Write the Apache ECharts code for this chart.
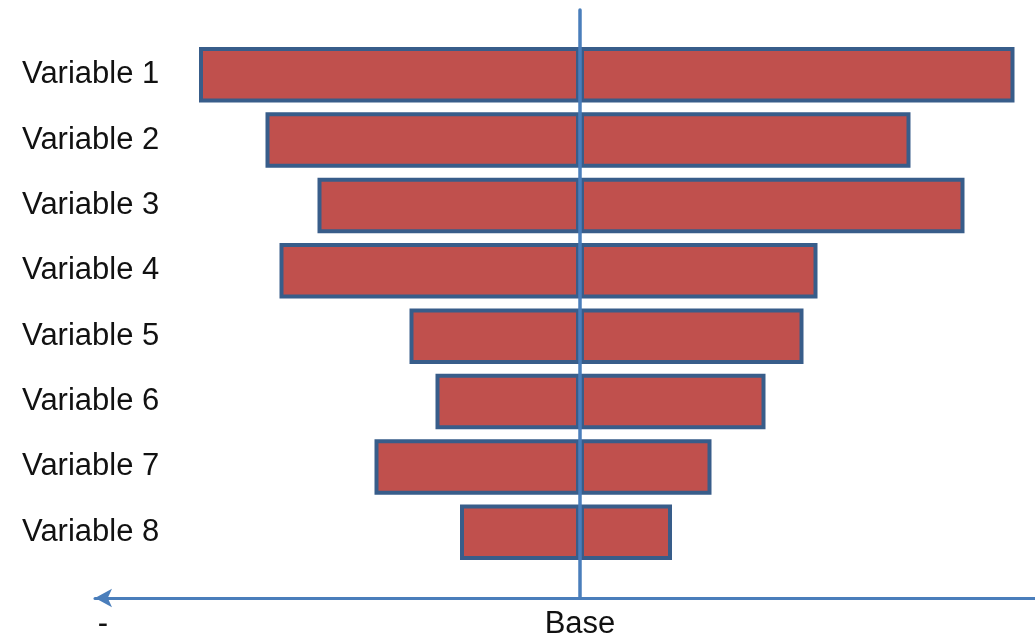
<!DOCTYPE html>
<html>
<head>
<meta charset="utf-8">
<script src="https://cdn.jsdelivr.net/npm/echarts@6/dist/echarts.min.js"></script>
<style>
html,body{margin:0;padding:0;background:#fff;}
#chart{width:1035px;height:638px;}
</style>
</head>
<body>
<div id="chart"></div>
<script>
// Data (arbitrary units; 0 = Base)
const categories = ['Variable 1','Variable 2','Variable 3','Variable 4','Variable 5','Variable 6','Variable 7','Variable 8'];
const lowValues  = [-76.2, -62.9, -52.5, -60.1, -34.1, -28.9, -41.1, -24.0];
const highValues = [86.9, 66.1, 76.9, 47.5, 44.7, 37.1, 26.3, 18.4];
const axisMin = -97;
const axisMax = 91;
const bottomTickValues = [-95.4, 0];
const bottomTickLabels = ['-', 'Base'];

const FONT = "'Liberation Sans', Arial, sans-serif";
const BAR_FILL = '#c0504d';
const BAR_BORDER = '#385d8a';
const AXIS_BLUE = '#4a7ebb';

const chart = echarts.init(document.getElementById('chart'), null, {renderer: 'canvas'});

const barStyle = {color: BAR_FILL, borderColor: BAR_BORDER, borderWidth: 4};

chart.setOption({
  animation: false,
  backgroundColor: '#ffffff',
  grid: [
    {left: 95, right: 0, top: 42, height: 523, outerBoundsMode: 'none', containLabel: false},
    {left: 95, right: 0, top: 10, bottom: 40, outerBoundsMode: 'none', containLabel: false}
  ],
  xAxis: [
    {gridIndex: 0, type: 'value', min: axisMin, max: axisMax, show: false},
    {
      gridIndex: 1, type: 'value', min: axisMin, max: axisMax,
      axisLine: {show: true, onZero: true, symbol: ['arrow', 'none'], symbolSize: [14, 17],
        lineStyle: {color: AXIS_BLUE, width: 3}},
      axisTick: {show: false},
      splitLine: {show: false},
      axisLabel: {
        show: true,
        customValues: bottomTickValues,
        formatter: function (v) {
          const i = bottomTickValues.indexOf(v);
          return i >= 0 ? bottomTickLabels[i] : '';
        },
        margin: 11,
        fontSize: 31, fontFamily: FONT, color: '#111111'
      },
      z: 5
    }
  ],
  yAxis: [
    {
      gridIndex: 0, type: 'category', data: categories, inverse: true,
      axisLine: {show: false}, axisTick: {show: false}, splitLine: {show: false},
      axisLabel: {align: 'left', margin: 73, fontSize: 31, fontFamily: FONT, color: '#111111'}
    },
    {
      gridIndex: 1, type: 'value', min: 0, max: 1,
      axisLine: {show: true, onZero: true, lineStyle: {color: AXIS_BLUE, width: 3.5}},
      axisTick: {show: false}, axisLabel: {show: false}, splitLine: {show: false},
      z: 10
    }
  ],
  series: [
    {
      type: 'bar', name: 'Low', xAxisIndex: 0, yAxisIndex: 0,
      data: lowValues, barWidth: '85%', barGap: '-100%',
      itemStyle: barStyle, z: 2
    },
    {
      type: 'bar', name: 'High', xAxisIndex: 0, yAxisIndex: 0,
      data: highValues, barWidth: '85%', barGap: '-100%',
      itemStyle: barStyle, z: 2
    }
  ]
});
</script>
</body>
</html>
